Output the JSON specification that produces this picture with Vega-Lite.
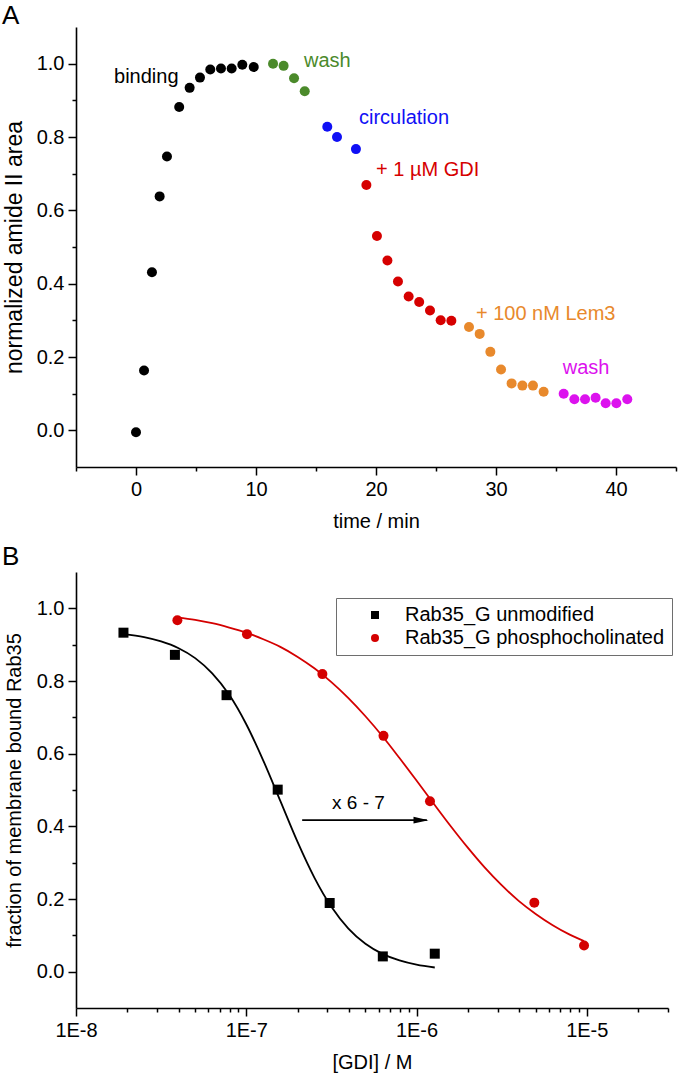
{
  "$schema": "https://vega.github.io/schema/vega-lite/v6.json",
  "background": "white",
  "padding": {"left": 2, "top": 3, "right": 2, "bottom": 2},
  "config": {
    "font": "Liberation Sans",
    "view": {"stroke": null},
    "axis": {
      "labelFont": "Liberation Sans", "titleFont": "Liberation Sans",
      "labelFontSize": 20, "titleFontSize": 20, "titleFontWeight": "normal",
      "labelColor": "#000000", "titleColor": "#000000",
      "domainColor": "#000000", "tickColor": "#000000",
      "domainWidth": 1.6, "tickWidth": 1.5, "grid": false,
      "labelPadding": 4, "titlePadding": 12, "labelFlush": false, "labelOverlap": false
    }
  },
  "datasets": {
    "timecourse": [
      {"t": 0.0, "v": -0.005, "phase": "binding"},
      {"t": 0.67, "v": 0.163, "phase": "binding"},
      {"t": 1.33, "v": 0.431, "phase": "binding"},
      {"t": 1.97, "v": 0.638, "phase": "binding"},
      {"t": 2.58, "v": 0.747, "phase": "binding"},
      {"t": 3.6, "v": 0.882, "phase": "binding"},
      {"t": 4.47, "v": 0.934, "phase": "binding"},
      {"t": 5.33, "v": 0.962, "phase": "binding"},
      {"t": 6.19, "v": 0.984, "phase": "binding"},
      {"t": 7.08, "v": 0.987, "phase": "binding"},
      {"t": 7.97, "v": 0.987, "phase": "binding"},
      {"t": 8.86, "v": 0.997, "phase": "binding"},
      {"t": 9.81, "v": 0.991, "phase": "binding"},
      {"t": 11.42, "v": 1.0, "phase": "wash1"},
      {"t": 12.3, "v": 0.994, "phase": "wash1"},
      {"t": 13.17, "v": 0.96, "phase": "wash1"},
      {"t": 14.06, "v": 0.925, "phase": "wash1"},
      {"t": 15.94, "v": 0.828, "phase": "circulation"},
      {"t": 16.75, "v": 0.8, "phase": "circulation"},
      {"t": 18.33, "v": 0.767, "phase": "circulation"},
      {"t": 19.2, "v": 0.669, "phase": "GDI"},
      {"t": 20.08, "v": 0.53, "phase": "GDI"},
      {"t": 20.95, "v": 0.463, "phase": "GDI"},
      {"t": 21.83, "v": 0.406, "phase": "GDI"},
      {"t": 22.72, "v": 0.365, "phase": "GDI"},
      {"t": 23.6, "v": 0.35, "phase": "GDI"},
      {"t": 24.5, "v": 0.327, "phase": "GDI"},
      {"t": 25.39, "v": 0.3, "phase": "GDI"},
      {"t": 26.28, "v": 0.299, "phase": "GDI"},
      {"t": 27.75, "v": 0.282, "phase": "Lem3"},
      {"t": 28.64, "v": 0.263, "phase": "Lem3"},
      {"t": 29.53, "v": 0.214, "phase": "Lem3"},
      {"t": 30.42, "v": 0.166, "phase": "Lem3"},
      {"t": 31.3, "v": 0.128, "phase": "Lem3"},
      {"t": 32.2, "v": 0.122, "phase": "Lem3"},
      {"t": 33.08, "v": 0.122, "phase": "Lem3"},
      {"t": 33.97, "v": 0.105, "phase": "Lem3"},
      {"t": 35.64, "v": 0.1, "phase": "wash2"},
      {"t": 36.53, "v": 0.085, "phase": "wash2"},
      {"t": 37.42, "v": 0.085, "phase": "wash2"},
      {"t": 38.3, "v": 0.089, "phase": "wash2"},
      {"t": 39.14, "v": 0.074, "phase": "wash2"},
      {"t": 40.03, "v": 0.074, "phase": "wash2"},
      {"t": 40.94, "v": 0.085, "phase": "wash2"}
    ],
    "phaseLabels": [
      {"t": -1.83, "v": 0.946, "phase": "binding", "label": "binding"},
      {"t": 14.0, "v": 0.991, "phase": "wash1", "label": "wash"},
      {"t": 18.58, "v": 0.835, "phase": "circulation", "label": "circulation"},
      {"t": 20.0, "v": 0.693, "phase": "GDI", "label": "+ 1 µM GDI"},
      {"t": 28.33, "v": 0.3005, "phase": "Lem3", "label": "+ 100 nM Lem3"},
      {"t": 35.56, "v": 0.153, "phase": "wash2", "label": "wash"}
    ],
    "fits": [
      {"c": 1.9e-8, "f": 0.929, "curve": "fit unmodified"},
      {"c": 2.512e-8, "f": 0.921, "curve": "fit unmodified"},
      {"c": 3.162e-8, "f": 0.909, "curve": "fit unmodified"},
      {"c": 3.981e-8, "f": 0.891, "curve": "fit unmodified"},
      {"c": 5.012e-8, "f": 0.863, "curve": "fit unmodified"},
      {"c": 6.31e-8, "f": 0.821, "curve": "fit unmodified"},
      {"c": 7.943e-8, "f": 0.762, "curve": "fit unmodified"},
      {"c": 1.0e-7, "f": 0.681, "curve": "fit unmodified"},
      {"c": 1.259e-7, "f": 0.581, "curve": "fit unmodified"},
      {"c": 1.585e-7, "f": 0.47, "curve": "fit unmodified"},
      {"c": 1.995e-7, "f": 0.3585, "curve": "fit unmodified"},
      {"c": 2.512e-7, "f": 0.259, "curve": "fit unmodified"},
      {"c": 3.162e-7, "f": 0.1785, "curve": "fit unmodified"},
      {"c": 3.981e-7, "f": 0.1187, "curve": "fit unmodified"},
      {"c": 5.012e-7, "f": 0.0769, "curve": "fit unmodified"},
      {"c": 6.31e-7, "f": 0.049, "curve": "fit unmodified"},
      {"c": 7.943e-7, "f": 0.0308, "curve": "fit unmodified"},
      {"c": 1.0e-6, "f": 0.0192, "curve": "fit unmodified"},
      {"c": 1.28e-6, "f": 0.0115, "curve": "fit unmodified"},
      {"c": 3.94e-8, "f": 0.975, "curve": "fit phosphocholinated"},
      {"c": 5.012e-8, "f": 0.968, "curve": "fit phosphocholinated"},
      {"c": 6.31e-8, "f": 0.959, "curve": "fit phosphocholinated"},
      {"c": 7.943e-8, "f": 0.947, "curve": "fit phosphocholinated"},
      {"c": 1.0e-7, "f": 0.933, "curve": "fit phosphocholinated"},
      {"c": 1.259e-7, "f": 0.915, "curve": "fit phosphocholinated"},
      {"c": 1.585e-7, "f": 0.894, "curve": "fit phosphocholinated"},
      {"c": 1.995e-7, "f": 0.867, "curve": "fit phosphocholinated"},
      {"c": 2.512e-7, "f": 0.835, "curve": "fit phosphocholinated"},
      {"c": 3.162e-7, "f": 0.797, "curve": "fit phosphocholinated"},
      {"c": 3.981e-7, "f": 0.753, "curve": "fit phosphocholinated"},
      {"c": 5.012e-7, "f": 0.703, "curve": "fit phosphocholinated"},
      {"c": 6.31e-7, "f": 0.648, "curve": "fit phosphocholinated"},
      {"c": 7.943e-7, "f": 0.588, "curve": "fit phosphocholinated"},
      {"c": 1.0e-6, "f": 0.526, "curve": "fit phosphocholinated"},
      {"c": 1.259e-6, "f": 0.463, "curve": "fit phosphocholinated"},
      {"c": 1.585e-6, "f": 0.401, "curve": "fit phosphocholinated"},
      {"c": 1.995e-6, "f": 0.342, "curve": "fit phosphocholinated"},
      {"c": 2.512e-6, "f": 0.287, "curve": "fit phosphocholinated"},
      {"c": 3.162e-6, "f": 0.238, "curve": "fit phosphocholinated"},
      {"c": 3.981e-6, "f": 0.195, "curve": "fit phosphocholinated"},
      {"c": 5.012e-6, "f": 0.159, "curve": "fit phosphocholinated"},
      {"c": 6.31e-6, "f": 0.128, "curve": "fit phosphocholinated"},
      {"c": 7.943e-6, "f": 0.102, "curve": "fit phosphocholinated"},
      {"c": 9.64e-6, "f": 0.084, "curve": "fit phosphocholinated"}
    ],
    "measured": [
      {"c": 1.9e-8, "f": 0.933, "series": "Rab35_G unmodified"},
      {"c": 3.81e-8, "f": 0.872, "series": "Rab35_G unmodified"},
      {"c": 7.66e-8, "f": 0.761, "series": "Rab35_G unmodified"},
      {"c": 1.53e-7, "f": 0.501, "series": "Rab35_G unmodified"},
      {"c": 3.09e-7, "f": 0.189, "series": "Rab35_G unmodified"},
      {"c": 6.34e-7, "f": 0.042, "series": "Rab35_G unmodified"},
      {"c": 1.28e-6, "f": 0.0495, "series": "Rab35_G unmodified"},
      {"c": 3.94e-8, "f": 0.967, "series": "Rab35_G phosphocholinated"},
      {"c": 1.01e-7, "f": 0.929, "series": "Rab35_G phosphocholinated"},
      {"c": 2.8e-7, "f": 0.819, "series": "Rab35_G phosphocholinated"},
      {"c": 6.4e-7, "f": 0.649, "series": "Rab35_G phosphocholinated"},
      {"c": 1.2e-6, "f": 0.469, "series": "Rab35_G phosphocholinated"},
      {"c": 4.92e-6, "f": 0.19, "series": "Rab35_G phosphocholinated"},
      {"c": 9.64e-6, "f": 0.072, "series": "Rab35_G phosphocholinated"}
    ],
    "shiftArrow": [
      {"c": 2.13e-7, "c2": 1.15e-6, "f": 0.417, "tip": 1.063e-6, "mid": 4.56e-7, "ftext": 0.448, "label": "x 6 - 7"}
    ]
  },
  "spacing": 105,
  "bounds": "flush",
  "resolve": {
    "scale": {"color": "independent", "shape": "independent", "stroke": "independent"},
    "legend": {"color": "independent", "shape": "independent", "stroke": "independent"}
  },
  "vconcat": [
    {
      "width": 600,
      "height": 440,
      "title": {"text": "A", "anchor": "start", "frame": "group", "dx": -74, "offset": -2, "fontSize": 26, "fontWeight": "normal", "font": "Liberation Sans", "color": "#000000"},
      "layer": [
        {
          "data": {"name": "timecourse"},
          "mark": {"type": "circle", "size": 100, "opacity": 1},
          "encoding": {
            "x": {"field": "t", "type": "quantitative",
                  "scale": {"domain": [-5, 45], "nice": false, "zero": false},
                  "axis": {"orient": "bottom", "values": [0, 10, 20, 30, 40], "title": "time / min", "tickSize": 8}},
            "y": {"field": "v", "type": "quantitative",
                  "scale": {"domain": [-0.1, 1.1], "nice": false, "zero": false},
                  "axis": {"orient": "left", "values": [0, 0.2, 0.4, 0.6, 0.8, 1.0], "format": ".1f", "title": "normalized amide II area", "titleFontSize": 23, "titlePadding": 10, "tickSize": 8}},
            "color": {"field": "phase", "type": "nominal",
                      "scale": {"domain": ["binding", "wash1", "circulation", "GDI", "Lem3", "wash2"],
                                "range": ["#000000", "#4b8a2b", "#1010f5", "#d60000", "#e8892c", "#dc12ee"]},
                      "legend": null}
          }
        },
        {
          "data": {"name": "phaseLabels"},
          "mark": {"type": "text", "fontSize": 20, "font": "Liberation Sans", "align": "left", "baseline": "alphabetic"},
          "encoding": {
            "x": {"field": "t", "type": "quantitative",
                  "axis": {"orient": "bottom", "values": [-5, 5, 15, 25, 35, 45], "labels": false, "tickSize": 4, "title": null, "domain": false}},
            "y": {"field": "v", "type": "quantitative",
                  "axis": {"orient": "left", "values": [0.1, 0.3, 0.5, 0.7, 0.9], "labels": false, "tickSize": 4, "title": null, "domain": false}},
            "text": {"field": "label"},
            "color": {"field": "phase", "type": "nominal", "legend": null}
          }
        }
      ],
      "resolve": {"axis": {"x": "independent", "y": "independent"}}
    },
    {
      "width": 592,
      "height": 436,
      "title": {"text": "B", "anchor": "start", "frame": "group", "dx": -74, "offset": 2, "fontSize": 26, "fontWeight": "normal", "font": "Liberation Sans", "color": "#000000"},
      "layer": [
        {
          "data": {"name": "fits"},
          "mark": {"type": "line", "strokeWidth": 1.8, "interpolate": "monotone"},
          "encoding": {
            "x": {"field": "c", "type": "quantitative",
                  "scale": {"type": "log", "domain": [1e-8, 3e-5], "nice": false},
                  "axis": {"orient": "bottom", "values": [1e-8, 1e-7, 1e-6, 1e-5], "labelExpr": "'1E' + round(log(datum.value)/LN10)", "title": "[GDI] / M", "tickSize": 8}},
            "y": {"field": "f", "type": "quantitative",
                  "scale": {"domain": [-0.1, 1.1], "nice": false, "zero": false},
                  "axis": {"orient": "left", "values": [0, 0.2, 0.4, 0.6, 0.8, 1.0], "format": ".1f", "title": "fraction of membrane bound Rab35", "tickSize": 8}},
            "stroke": {"field": "curve", "type": "nominal",
                       "scale": {"domain": ["fit unmodified", "fit phosphocholinated"], "range": ["#000000", "#d40000"]},
                       "legend": null}
          }
        },
        {
          "data": {"name": "measured"},
          "mark": {"type": "point", "filled": true, "size": 100, "opacity": 1},
          "encoding": {
            "x": {"field": "c", "type": "quantitative", "axis": null},
            "y": {"field": "f", "type": "quantitative", "axis": null},
            "color": {"field": "series", "type": "nominal",
                      "scale": {"domain": ["Rab35_G unmodified", "Rab35_G phosphocholinated"], "range": ["#000000", "#d40000"]},
                      "legend": {"orient": "none", "legendX": 260, "legendY": 26, "title": null, "labelFontSize": 20, "labelFont": "Liberation Sans", "labelColor": "#000000", "strokeColor": "#6e6e6e", "fillColor": "#ffffff", "padding": 7, "symbolOffset": 22, "labelOffset": 20, "symbolSize": 64, "rowPadding": 3, "labelLimit": 400}},
            "shape": {"field": "series", "type": "nominal",
                      "scale": {"domain": ["Rab35_G unmodified", "Rab35_G phosphocholinated"], "range": ["square", "circle"]},
                      "legend": {"orient": "none", "legendX": 260, "legendY": 26, "title": null, "labelFontSize": 20, "labelFont": "Liberation Sans", "labelColor": "#000000", "strokeColor": "#6e6e6e", "fillColor": "#ffffff", "padding": 7, "symbolOffset": 22, "labelOffset": 20, "symbolSize": 64, "rowPadding": 3, "labelLimit": 400}}
          }
        },
        {
          "data": {"name": "shiftArrow"},
          "mark": {"type": "rule", "strokeWidth": 1.6, "color": "#000000"},
          "encoding": {
            "x": {"field": "c", "type": "quantitative", "axis": null},
            "x2": {"field": "c2"},
            "y": {"field": "f", "type": "quantitative", "axis": null}
          }
        },
        {
          "data": {"name": "shiftArrow"},
          "mark": {"type": "point", "filled": true, "opacity": 1, "color": "#000000", "shape": "M-1,-0.45L1,0L-1,0.45Z", "size": 225},
          "encoding": {
            "x": {"field": "tip", "type": "quantitative", "axis": null},
            "y": {"field": "f", "type": "quantitative", "axis": null}
          }
        },
        {
          "data": {"name": "shiftArrow"},
          "mark": {"type": "text", "fontSize": 19, "font": "Liberation Sans", "align": "center", "baseline": "alphabetic", "color": "#000000"},
          "encoding": {
            "x": {"field": "mid", "type": "quantitative",
                  "axis": {"orient": "bottom", "values": [2e-8, 3e-8, 4e-8, 5e-8, 6e-8, 7e-8, 8e-8, 9e-8, 2e-7, 3e-7, 4e-7, 5e-7, 6e-7, 7e-7, 8e-7, 9e-7, 2e-6, 3e-6, 4e-6, 5e-6, 6e-6, 7e-6, 8e-6, 9e-6, 2e-5, 3e-5], "labels": false, "tickSize": 4, "title": null, "domain": false}},
            "y": {"field": "ftext", "type": "quantitative",
                  "axis": {"orient": "left", "values": [0.1, 0.3, 0.5, 0.7, 0.9], "labels": false, "tickSize": 4, "title": null, "domain": false}},
            "text": {"field": "label"}
          }
        }
      ],
      "resolve": {"axis": {"x": "independent", "y": "independent"}}
    }
  ]
}
